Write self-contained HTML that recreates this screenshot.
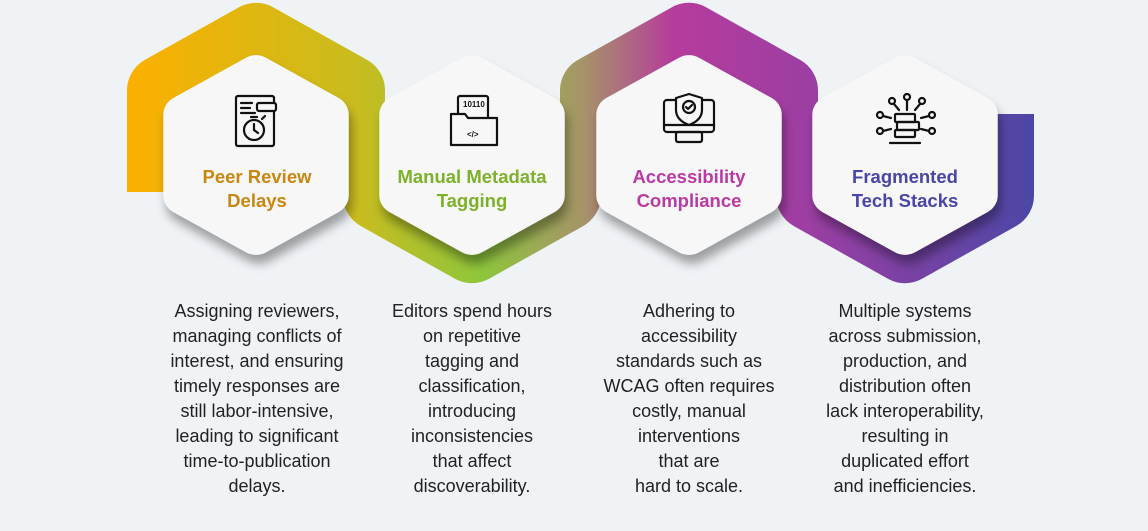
<!DOCTYPE html>
<html><head><meta charset="utf-8"><style>
body{margin:0;width:1148px;height:531px;background:#eff3f6;overflow:hidden;position:relative;font-family:"Liberation Sans",Arial,sans-serif}
svg{position:absolute;left:0;top:0}
.t{position:absolute;width:210px;text-align:center;font-weight:bold;font-size:18.5px;line-height:24px;top:165px}
.b{position:absolute;width:220px;text-align:center;font-size:18px;line-height:25px;color:#222;top:299px}
</style></head><body>
<svg width="1148" height="531" viewBox="0 0 1148 531">
<defs>
<linearGradient id="g" gradientUnits="userSpaceOnUse" x1="130" y1="0" x2="1035" y2="0">
<stop offset="0" stop-color="#fbb000"/>
<stop offset="0.25" stop-color="#c9bc1e"/>
<stop offset="0.39" stop-color="#8ec63c"/>
<stop offset="0.5" stop-color="#a69468"/>
<stop offset="0.6" stop-color="#b63c9c"/>
<stop offset="0.75" stop-color="#9c3ea2"/>
<stop offset="1" stop-color="#4b47a6"/>
</linearGradient>
<clipPath id="top"><rect x="0" y="0" width="1148" height="192"/></clipPath>
<clipPath id="bot1"><rect x="0" y="110" width="1148" height="400"/></clipPath>
<clipPath id="bot2"><rect x="0" y="114" width="1148" height="400"/></clipPath>
<filter id="sh" x="-20%" y="-20%" width="140%" height="150%"><feDropShadow dx="3" dy="9" stdDeviation="5" flood-color="#000" flood-opacity="0.35"/></filter>
</defs>
<g fill="url(#g)" stroke="url(#g)" stroke-width="70" stroke-linejoin="round">
<polygon clip-path="url(#top)" points="256,37.8 350,90.4 350,195.6 256,248.2 162,195.6 162,90.4"/>
<polygon clip-path="url(#bot1)" points="472,37.8 566,90.4 566,195.6 472,248.2 378,195.6 378,90.4"/>
<polygon clip-path="url(#top)" points="689,37.8 783,90.4 783,195.6 689,248.2 595,195.6 595,90.4"/>
<polygon clip-path="url(#bot2)" points="905,37.8 999,90.4 999,195.6 905,248.2 811,195.6 811,90.4"/>
</g>
<g fill="#f7f7f8" stroke="#f7f7f8" stroke-width="40" stroke-linejoin="round" filter="url(#sh)">
<polygon transform="translate(256,155) scale(1,0.96)" points="0,-84 72.7,-42 72.7,42 0,84 -72.7,42 -72.7,-42"/>
<polygon transform="translate(472,155) scale(1,0.96)" points="0,-84 72.7,-42 72.7,42 0,84 -72.7,42 -72.7,-42"/>
<polygon transform="translate(689,155) scale(1,0.96)" points="0,-84 72.7,-42 72.7,42 0,84 -72.7,42 -72.7,-42"/>
<polygon transform="translate(905,155) scale(1,0.96)" points="0,-84 72.7,-42 72.7,42 0,84 -72.7,42 -72.7,-42"/>
</g>
<g fill="none" stroke="#111" stroke-width="2.2" stroke-linecap="round" stroke-linejoin="round">
<rect x="236" y="96" width="38" height="50" rx="2"/>
<rect x="257" y="103" width="19" height="8" rx="2" fill="#f7f7f8"/>
<line x1="241" y1="103" x2="252" y2="103"/><line x1="241" y1="108" x2="250" y2="108"/><line x1="241" y1="113" x2="255" y2="113"/>
<circle cx="254" cy="130" r="10" fill="#f7f7f8"/><line x1="254" y1="124" x2="254" y2="130"/><line x1="254" y1="130" x2="258" y2="133"/>
<line x1="251" y1="117" x2="257" y2="117"/><line x1="262" y1="119" x2="265" y2="116"/>
<rect x="458" y="96" width="30" height="30" rx="2"/>
<text x="463" y="107" font-size="8" font-weight="bold" fill="#111" stroke="none" font-family="Liberation Sans">10110</text>
<path d="M451 114 h14 l3 4 h29 v27 h-46 z" fill="#f7f7f8"/>
<text x="467" y="137" font-size="8" font-weight="bold" fill="#111" stroke="none" font-family="Liberation Sans">&lt;/&gt;</text>
<rect x="664" y="100" width="50" height="32" rx="3"/>
<line x1="664" y1="125" x2="714" y2="125"/>
<rect x="676" y="132" width="26" height="10" rx="2"/>
<path d="M689 94 l13 4 v12 q0 10 -13 15 q-13 -5 -13 -15 v-12 z" fill="#f7f7f8"/>
<circle cx="689" cy="107" r="6"/><path d="M686 107 l2 2 l4 -4"/>
<rect x="895" y="114" width="20" height="8" rx="1"/><rect x="897" y="122" width="22" height="8" rx="1"/><rect x="895" y="130" width="20" height="7" rx="1"/>
<line x1="890" y1="143" x2="920" y2="143"/>
<circle cx="907" cy="97" r="3"/><line x1="907" y1="100" x2="907" y2="110"/>
<circle cx="892" cy="101" r="3"/><line x1="894" y1="104" x2="899" y2="110"/>
<circle cx="922" cy="101" r="3"/><line x1="920" y1="104" x2="915" y2="110"/>
<circle cx="880" cy="115" r="3"/><line x1="883" y1="116" x2="891" y2="118"/>
<circle cx="932" cy="115" r="3"/><line x1="929" y1="116" x2="921" y2="118"/>
<circle cx="880" cy="131" r="3"/><line x1="883" y1="131" x2="891" y2="129"/>
<circle cx="932" cy="131" r="3"/><line x1="929" y1="131" x2="921" y2="129"/>
</g>
</svg>
<div class="t" style="left:152px;color:#c98710">Peer Review<br>Delays</div>
<div class="t" style="left:367px;color:#7db128">Manual Metadata<br>Tagging</div>
<div class="t" style="left:584px;color:#bb3aa2">Accessibility<br>Compliance</div>
<div class="t" style="left:800px;color:#4846a6">Fragmented<br>Tech Stacks</div>
<div class="b" style="left:147px">Assigning reviewers,<br>managing conflicts of<br>interest, and ensuring<br>timely responses are<br>still labor-intensive,<br>leading to significant<br>time-to-publication<br>delays.</div>
<div class="b" style="left:362px">Editors spend hours<br>on repetitive<br>tagging and<br>classification,<br>introducing<br>inconsistencies<br>that affect<br>discoverability.</div>
<div class="b" style="left:579px">Adhering to<br>accessibility<br>standards such as<br>WCAG often requires<br>costly, manual<br>interventions<br>that are<br>hard to scale.</div>
<div class="b" style="left:795px">Multiple systems<br>across submission,<br>production, and<br>distribution often<br>lack interoperability,<br>resulting in<br>duplicated effort<br>and inefficiencies.</div>
</body></html>
